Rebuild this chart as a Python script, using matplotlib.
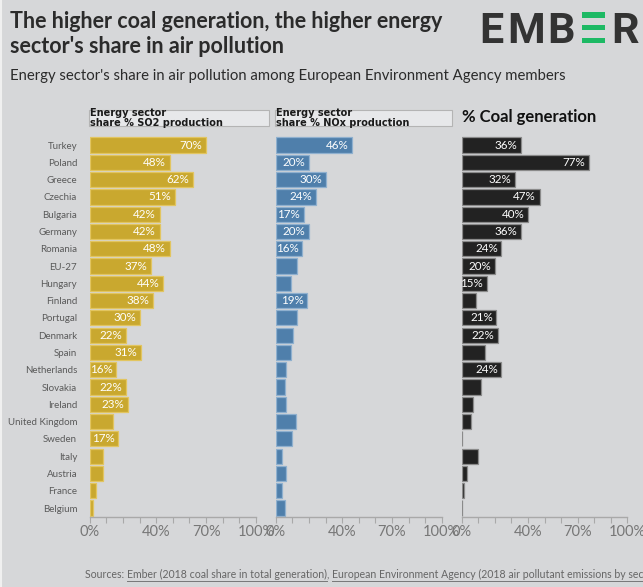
import matplotlib
matplotlib.use('Agg')
import matplotlib.pyplot as plt
from matplotlib.patches import Rectangle

countries = ["Turkey", "Poland", "Greece", "Czechia", "Bulgaria", "Germany", "Romania",
             "EU-27", "Hungary", "Finland", "Portugal", "Denmark", "Spain", "Netherlands",
             "Slovakia", "Ireland", "United Kingdom", "Sweden", "Italy", "Austria",
             "France", "Belgium"]
so2 = [70, 48, 62, 51, 42, 42, 48, 37, 44, 38, 30, 22, 31, 16, 22, 23, 14, 17, 8, 8, 4, 2]
nox = [46, 20, 30, 24, 17, 20, 16, 13, 9, 19, 13, 10.5, 9, 6.5, 5.5, 6, 12, 10, 4, 6, 3.5, 5.5]
coal = [36, 77, 32, 47, 40, 36, 24, 20, 15, 8.5, 21, 22, 14, 24, 11.5, 7, 5.5, 0.3, 10, 3, 1.5, 0]
xticks = [0, 10, 20, 30, 40, 50, 60, 70, 80, 90, 100]
xlabels_shown = [0, 40, 70, 100]

title = "The higher coal generation, the higher energy\nsector's share in air pollution"
subtitle = "Energy sector's share in air pollution among European Environment Agency members"
head_so2 = "Energy sector\nshare % SO2 production"
head_nox = "Energy sector\nshare % NOx production"
head_coal = "% Coal generation"

BG = "#d6d7d9"
W, H = 643, 587
fig = plt.figure(figsize=(W / 100, H / 100), dpi=100, facecolor=BG)

def fx(px):
    return px / W

def fy(py):
    return 1 - py / H

FONT = "Lato"
top_px, bot_px = 136.4, 517
panels = [
    (89.7, 166.3, so2, "#c9a82f", "#e2c560", head_so2, True),
    (275.7, 166.0, nox, "#4f7fab", "#8fb0cf", head_nox, False),
    (461.7, 165.6, coal, "#222222", "#8a8a8a", head_coal, False),
]

for left, width, vals, col, edge, head, show_names in panels:
    ax = fig.add_axes([fx(left), fy(bot_px), fx(width), (bot_px - top_px) / H])
    ax.set_facecolor(BG)
    y = list(range(len(countries)))
    ax.barh(y, vals, height=0.88, color=col, edgecolor=edge, linewidth=0.9)
    for yi, v in zip(y, vals):
        if v >= 15:
            ax.text(v - 2.2, yi, f"{v:.0f}%", ha="right", va="center",
                    color="white", fontsize=8.4, family=FONT)
    ax.set_xlim(0, 100)
    ax.set_ylim(21.52, -0.5)
    for s in ["top", "right", "left"]:
        ax.spines[s].set_visible(False)
    ax.spines["bottom"].set_color("#a9a9a9")
    ax.spines["bottom"].set_linewidth(1)
    ax.set_xticks(xticks)
    ax.set_xticklabels([f"{t}%" if t in xlabels_shown else "" for t in xticks],
                       family=FONT, fontsize=10.5, color="#777777")
    ax.tick_params(axis="x", length=4.5, color="#a9a9a9", pad=1.5)
    if show_names:
        ax.set_yticks(y)
        ax.set_yticklabels(countries, family=FONT, fontsize=7.0, color="#5a5a5a")
        ax.tick_params(axis="y", length=0, pad=9)
    else:
        ax.set_yticks([])
    if head != head_coal:
        box_w = 180 if show_names else 177
        fig.patches.append(Rectangle((fx(left - 0.5), fy(126)), fx(box_w), 16 / H,
                                     transform=fig.transFigure, facecolor="#e7e8ea",
                                     edgecolor="#b4b4b4", linewidth=0.8, zorder=0))
        fig.text(fx(left), fy(117.5), head, family="DejaVu Sans", fontweight="bold",
                 fontsize=7.0, color="#1a1a1a", va="center", ha="left", linespacing=1.0)
    else:
        fig.text(fx(left), fy(117), head, family=FONT, fontweight="bold",
                 fontsize=12, color="#111111", va="center", ha="left")

# Title and subtitle
fig.text(fx(10), fy(10.5), title, family=FONT, fontweight="bold", fontsize=15.5,
         color="#2b2b2b", va="top", ha="left", linespacing=1.25)
fig.text(fx(10), fy(76), subtitle, family=FONT, fontsize=10.7, color="#2b2b2b",
         va="center", ha="left")

# Logo
logo_col = "#333333"
for ch, cx in [("E", 491.5), ("M", 526), ("B", 560.5), ("R", 625.5)]:
    fig.text(fx(cx), fy(43), ch, family="Roboto", fontweight="bold", fontsize=31,
             color=logo_col, ha="center", va="baseline")
for y0, y1 in [(12, 17.5), (24.5, 30), (37.5, 43)]:
    fig.patches.append(Rectangle((fx(582), fy(y1)), fx(23), (y1 - y0) / H,
                                 transform=fig.transFigure, facecolor="#1db964",
                                 edgecolor="none"))

# Footer with underlined links
fig.canvas.draw()
renderer = fig.canvas.get_renderer()
parts = [("Sources: ", False), ("Ember (2018 coal share in total generation)", True),
         (", ", False), ("European Environment Agency (2018 air pollutant emissions by sector)", True)]
xpos = 85
for txt, link in parts:
    t = fig.text(fx(xpos), fy(578), txt, family=FONT, fontsize=7.6, color="#666666",
                 ha="left", va="baseline")
    bb = t.get_window_extent(renderer)
    if link:
        fig.add_artist(plt.Line2D([fx(xpos), fx(xpos + bb.width)], [fy(580.5), fy(580.5)],
                                  transform=fig.transFigure, color="#777777", linewidth=0.7))
    xpos += bb.width

# light left border
fig.add_artist(plt.Line2D([fx(1), fx(1)], [0, 1], transform=fig.transFigure,
                          color="#f0f0f0", linewidth=1.5))

fig.savefig("out.png", dpi=100, facecolor=BG)
